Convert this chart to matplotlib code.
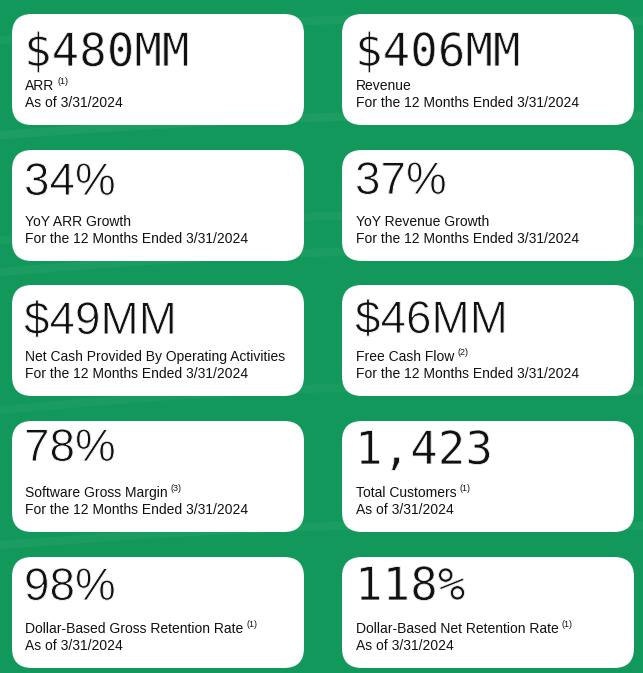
import matplotlib.pyplot as plt
import matplotlib.patheffects as pe
import numpy as np
from matplotlib.patches import FancyBboxPatch

# card contents, in reading order (left, right per row)
values = ["$480MM", "$406MM", "34%", "37%", "$49MM", "$46MM",
          "78%", "1,423", "98%", "118%"]
labels = ["ARR", "Revenue", "YoY ARR Growth", "YoY Revenue Growth",
          "Net Cash Provided By Operating Activities", "Free Cash Flow",
          "Software Gross Margin", "Total Customers",
          "Dollar-Based Gross Retention Rate", "Dollar-Based Net Retention Rate"]
notes = ["(1)", "", "", "", "", "(2)", "(3)", "(1)", "(1)", "(1)"]
periods = ["As of 3/31/2024", "For the 12 Months Ended 3/31/2024",
           "For the 12 Months Ended 3/31/2024", "For the 12 Months Ended 3/31/2024",
           "For the 12 Months Ended 3/31/2024", "For the 12 Months Ended 3/31/2024",
           "For the 12 Months Ended 3/31/2024", "As of 3/31/2024",
           "As of 3/31/2024", "As of 3/31/2024"]
# the deck mixes a mono face and a plain sans face for the big figures
mono = [True, True, False, False, False, False, False, True, False, True]
# baseline of the big figure below the card top (it wanders a bit in the deck)
drop = [52, 52, 45, 44, 49, 48, 40, 43, 43, 43]

W, H = 643, 673
fig = plt.figure(figsize=(W / 100, H / 100), dpi=100)
ax = fig.add_axes([0, 0, 1, 1])
ax.set_xlim(0, W)
ax.set_ylim(H, 0)
ax.axis("off")

green = "#12985a"
fig.patch.set_facecolor(green)
ax.set_facecolor(green)

# faint light swooshes in the background
xs = np.linspace(0, W, 200)
for y0, amp, a in [(40, 10, 0.04), (135, 8, 0.05), (240, 14, 0.035),
                   (272, 10, 0.04), (410, 12, 0.035), (545, 9, 0.04)]:
    ax.plot(xs, y0 - amp * np.sin(xs / W * np.pi) - xs * 0.03,
            color="white", alpha=a, lw=6, solid_capstyle="round", zorder=0)

col_x = [12, 342]
pad_x = [13, 14]
row_y = [14, 150, 285, 421, 557]
card_w, card_h = 292, 111
rad = 20
ink = "#111111"

# thin the big glyphs a little by eroding their edges with a white outline
thin_mono = [pe.Normal(), pe.Stroke(linewidth=0.6, foreground="white")]
thin_sans = [pe.Normal(), pe.Stroke(linewidth=0.7, foreground="white")]

fig.canvas.draw()
renderer = fig.canvas.get_renderer()

for i, val in enumerate(values):
    x0 = col_x[i % 2]
    y0 = row_y[i // 2]
    tx = x0 + pad_x[i % 2]
    box = FancyBboxPatch((x0 + rad, y0 + rad), card_w - 2 * rad, card_h - 2 * rad,
                         boxstyle=f"round,pad={rad}", fc="white", ec="none", zorder=2)
    ax.add_patch(box)
    if mono[i]:
        ax.text(tx - 1, y0 + drop[i], val, fontsize=33, family="DejaVu Sans Mono",
                color=ink, va="baseline", ha="left", zorder=3,
                path_effects=thin_mono)
    else:
        ax.text(tx - 1, y0 + drop[i], val, fontsize=33, family="Liberation Sans",
                color=ink, va="baseline", ha="left", zorder=3,
                path_effects=thin_sans)
    t = ax.text(tx, y0 + 76, labels[i], fontsize=10, family="Liberation Sans",
                color=ink, va="baseline", ha="left", zorder=3)
    ax.text(tx, y0 + 93, periods[i], fontsize=10, family="Liberation Sans",
            color=ink, va="baseline", ha="left", zorder=3)
    if notes[i]:
        bb = t.get_window_extent(renderer)
        xn = ax.transData.inverted().transform((bb.x1, bb.y0))[0]
        ax.text(xn + 3, y0 + 70, notes[i], fontsize=6.5, family="Liberation Sans",
                color=ink, va="baseline", ha="left", zorder=3)

fig.savefig("out.png", dpi=100, facecolor=green)
